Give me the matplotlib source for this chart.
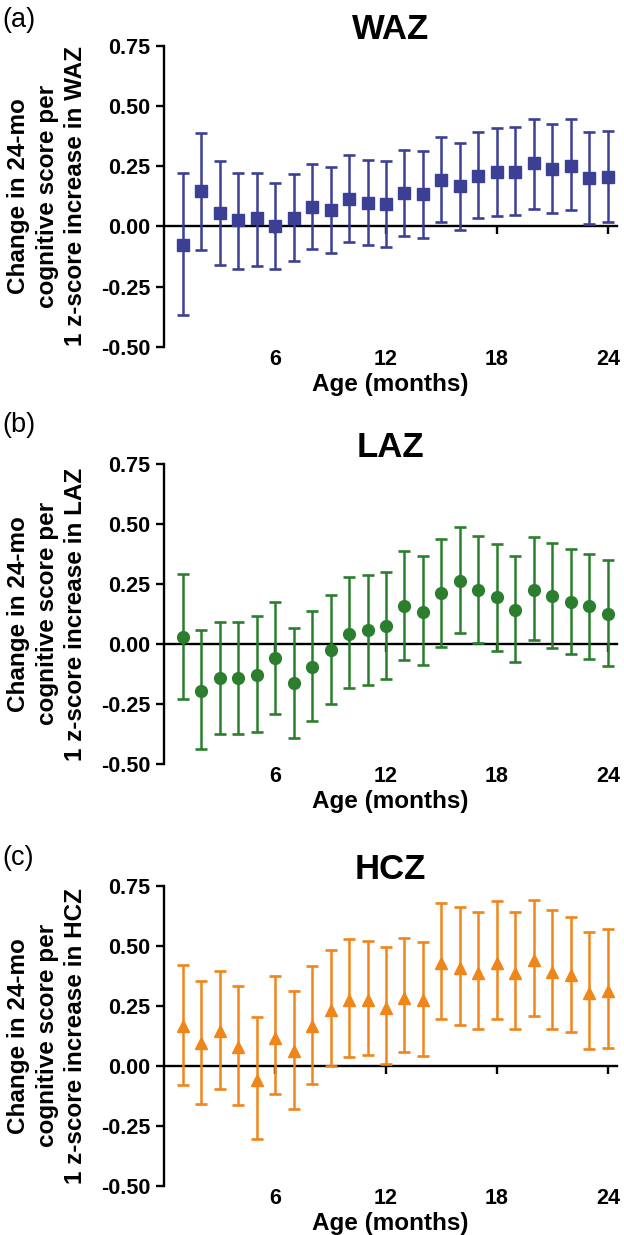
import numpy as np
import matplotlib.pyplot as plt

plt.rcParams['font.family'] = ['Liberation Sans', 'DejaVu Sans']

months = np.arange(1, 25)

# WAZ: estimate, lower and upper 95% CI
waz_est = [-0.076, 0.145, 0.055, 0.025, 0.033, 0.0, 0.036, 0.08, 0.066, 0.115, 0.097, 0.091,
           0.138, 0.134, 0.193, 0.166, 0.211, 0.224, 0.227, 0.262, 0.238, 0.253, 0.2, 0.204]
waz_lo = [-0.37, -0.097, -0.16, -0.177, -0.166, -0.177, -0.142, -0.093, -0.11, -0.065, -0.076, -0.087,
          -0.039, -0.047, 0.017, -0.014, 0.033, 0.044, 0.047, 0.073, 0.055, 0.066, 0.011, 0.018]
waz_hi = [0.22, 0.39, 0.272, 0.222, 0.22, 0.18, 0.217, 0.26, 0.247, 0.296, 0.275, 0.272,
          0.316, 0.313, 0.373, 0.345, 0.391, 0.409, 0.413, 0.448, 0.425, 0.448, 0.392, 0.398]

# LAZ
laz_est = [0.029, -0.194, -0.143, -0.143, -0.129, -0.06, -0.163, -0.096, -0.024, 0.043, 0.058, 0.074,
           0.157, 0.135, 0.213, 0.264, 0.224, 0.194, 0.143, 0.226, 0.2, 0.175, 0.157, 0.126]
laz_lo = [-0.23, -0.436, -0.375, -0.375, -0.367, -0.292, -0.39, -0.322, -0.25, -0.185, -0.169, -0.147,
          -0.069, -0.089, -0.011, 0.044, 0.003, -0.029, -0.076, 0.017, -0.017, -0.043, -0.061, -0.094]
laz_hi = [0.292, 0.056, 0.093, 0.093, 0.115, 0.176, 0.065, 0.138, 0.204, 0.278, 0.286, 0.301,
          0.385, 0.368, 0.435, 0.486, 0.449, 0.415, 0.367, 0.446, 0.421, 0.394, 0.376, 0.351]

# HCZ
hcz_est = [0.164, 0.094, 0.143, 0.08, -0.058, 0.115, 0.06, 0.164, 0.233, 0.275, 0.275, 0.24,
           0.282, 0.275, 0.427, 0.407, 0.386, 0.43, 0.386, 0.441, 0.39, 0.376, 0.303, 0.31]
hcz_lo = [-0.08, -0.158, -0.097, -0.164, -0.305, -0.119, -0.18, -0.075, 0.0, 0.036, 0.047, 0.008,
          0.056, 0.039, 0.194, 0.169, 0.155, 0.194, 0.153, 0.208, 0.153, 0.139, 0.071, 0.076]
hcz_hi = [0.419, 0.355, 0.396, 0.334, 0.204, 0.373, 0.312, 0.414, 0.482, 0.529, 0.518, 0.494,
          0.532, 0.514, 0.676, 0.661, 0.64, 0.686, 0.641, 0.691, 0.648, 0.618, 0.557, 0.57]

panels = [('(a)', 'WAZ', waz_est, waz_lo, waz_hi, '#3c4095', 's', 8.5),
          ('(b)', 'LAZ', laz_est, laz_lo, laz_hi, '#2a7e2d', 'o', 8.5),
          ('(c)', 'HCZ', hcz_est, hcz_lo, hcz_hi, '#f0851a', '^', 9)]

# axes boxes in figure fractions [left, bottom, width, height]
boxes = [[0.263, 0.7193, 0.726, 0.2435],
         [0.263, 0.3814, 0.726, 0.2430],
         [0.263, 0.0397, 0.726, 0.2432]]
label_y = [0.994, 0.666, 0.316]

fig = plt.figure(figsize=(6.24, 12.35), dpi=100)

for (tag, name, est, lo, hi, col, mk, ms), box, ly in zip(panels, boxes, label_y):
    ax = fig.add_axes(box)
    est = np.array(est)
    yerr = [est - np.array(lo), np.array(hi) - est]
    ax.errorbar(months, est, yerr=yerr, fmt=mk, color=col, ms=ms,
                elinewidth=1.8, capsize=4.2, capthick=1.9, zorder=3)

    ax.set_xlim(0, 24.5)
    ax.set_ylim(-0.5, 0.75)
    ax.set_yticks([-0.5, -0.25, 0, 0.25, 0.5, 0.75])
    ax.set_yticklabels(['-0.50', '-0.25', '0.00', '0.25', '0.50', '0.75'])

    # x axis drawn at y=0, labels at the bottom
    ax.spines['top'].set_visible(False)
    ax.spines['right'].set_visible(False)
    ax.spines['bottom'].set_position(('data', 0))
    ax.spines['bottom'].set_zorder(2)
    for s in ['left', 'bottom']:
        ax.spines[s].set_linewidth(1.7)
    ax.set_xticks([6, 12, 18, 24])
    ax.tick_params(axis='x', direction='out', length=5.5, width=1.7, labelbottom=False)
    ax.tick_params(axis='y', direction='out', length=6, width=1.7, labelsize=15.5, pad=4)
    for t in ax.get_yticklabels():
        t.set_fontweight('bold')

    sec = ax.secondary_xaxis('bottom')
    sec.set_xticks([6, 12, 18, 24])
    sec.spines['bottom'].set_visible(False)
    sec.tick_params(axis='x', length=0, labelsize=15.5, pad=1.5)
    for t in sec.get_xticklabels():
        t.set_fontweight('bold')
    sec.set_xlabel('Age (months)', fontsize=17.5, fontweight='bold', labelpad=2)

    ax.set_ylabel('Change in 24-mo\ncognitive score per\n1 z-score increase in ' + name,
                  fontsize=17.5, fontweight='bold', linespacing=1.3)
    ax.yaxis.set_label_coords(-0.17, 0.5)
    ax.set_title(name, fontsize=25, fontweight='bold', pad=1.5)
    fig.text(0.004, ly, tag, fontsize=19.5, va='top', ha='left')

fig.savefig('out.png', dpi=100)
